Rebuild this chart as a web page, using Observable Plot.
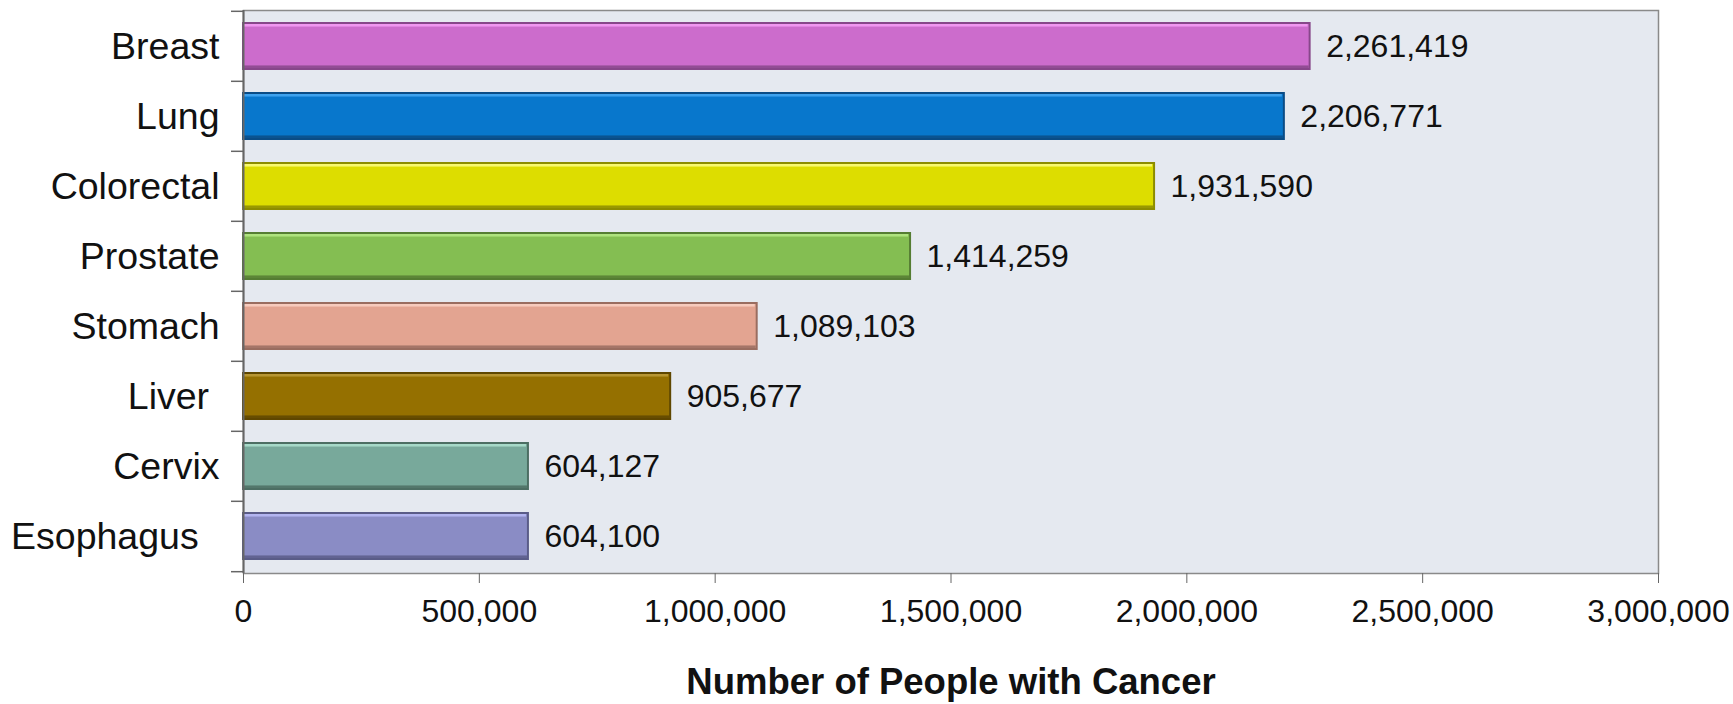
<!DOCTYPE html>
<html>
<head>
<meta charset="utf-8">
<script src="https://cdn.jsdelivr.net/npm/d3@7"></script>
<script src="https://cdn.jsdelivr.net/npm/@observablehq/plot@0.6"></script>
<style>
  html, body { margin: 0; padding: 0; background: #fff; }
  svg { font-family: "Liberation Sans", Arial, sans-serif; }
  svg [aria-label="y-axis tick label"] text { font-size: 37.5px; }
  svg [aria-label="x-axis label"] text { font-size: 36.5px; font-weight: bold; }
</style>
</head>
<body>
<div id="chart"></div>
<script>
const categories = ["Breast", "Lung", "Colorectal", "Prostate", "Stomach", "Liver", "Cervix", "Esophagus"];
const values = [2261419, 2206771, 1931590, 1414259, 1089103, 905677, 604127, 604100];
const xTicks = [0, 500000, 1000000, 1500000, 2000000, 2500000, 3000000];
const xTitle = "Number of People with Cancer";

const fillColors   = ["#cc6ccc", "#0877cc", "#dddd00", "#84be52", "#e3a491", "#957000", "#78a99b", "#8a8cc5"];
const lightColors  = ["#f097f0", "#3ea2ee", "#f8f870", "#aee27e", "#f7cbbd", "#b89632", "#a6d9c8", "#b3b5f0"];
const darkColors   = ["#87478a", "#0a4c86", "#8c8c00", "#557d33", "#9a6d60", "#5f4700", "#4c6e63", "#5a5c88"];

const data = categories.map((c, i) => ({
  cat: c, value: values[i], fill: fillColors[i], light: lightColors[i], dark: darkColors[i]
}));

const W = 1733, H = 704;
const mTop = 10, mBottom = 131, mLeft = 243, mRight = 75;
const padInner = 0.34;
const step = (H - mTop - mBottom) / categories.length;
const bw = step * (1 - padInner);
const tickLenData = 12 / ((W - mLeft - mRight) / 3000000);

const labelSpace = {"Liver": "\u00a0", "Esophagus": "\u00a0\u00a0"};

const chart = Plot.plot({
  width: W,
  height: H,
  marginTop: mTop,
  marginBottom: mBottom,
  marginLeft: mLeft,
  marginRight: mRight,
  style: { fontFamily: "Liberation Sans, Arial, sans-serif", color: "#111", background: "#fff" },
  x: { domain: [0, 3000000] },
  y: { domain: categories, paddingInner: padInner, paddingOuter: padInner / 2 },
  marks: [
    Plot.frame({ fill: "#e5e9f0", stroke: "#8a8a8a", strokeWidth: 1.5 }),
    // bars
    Plot.barX(data, { y: "cat", x: "value", fill: "fill", stroke: "dark", strokeWidth: 2 }),
    // top highlight
    Plot.barX(data, { y: "cat", x1: 0, x2: "value", fill: "light", insetBottom: bw - 4, insetRight: 2, insetLeft: 1, insetTop: 1 }),
    // bottom shade
    Plot.barX(data, { y: "cat", x1: 0, x2: "value", fill: "dark", insetTop: bw - 4, insetRight: 1, fillOpacity: 0.85 }),
    // value labels
    Plot.text(data, {
      y: "cat", x: "value", text: d => d3.format(",")(d.value),
      textAnchor: "start", dx: 16, fontSize: 32, fill: "#111"
    }),
    // y-axis band boundary ticks
    Plot.ruleY(categories, { y: d => d, x1: -tickLenData, x2: 0, dy: -step / 2, stroke: "#666", strokeWidth: 1.5 }),
    Plot.ruleY([categories[categories.length - 1]], { y: d => d, x1: -tickLenData, x2: 0, dy: step / 2, stroke: "#666", strokeWidth: 1.5 }),
    // axes
    Plot.axisY({
      tickSize: 0, tickPadding: 24, label: null, fontSize: 37.5,
      tickFormat: d => d + (labelSpace[d] || "")
    }),
    Plot.axisX({
      ticks: xTicks, tickSize: 10, tickPadding: 16, fontSize: 32,
      tickFormat: d3.format(","), stroke: "#666",
      label: xTitle, labelAnchor: "center", labelArrow: "none", labelOffset: 120
    }),
    Plot.ruleX([0], { stroke: "#666", strokeWidth: 2 }),
    Plot.ruleY([0], { stroke: "#666", strokeWidth: 2, frameAnchor: "bottom" })
  ]
});
document.getElementById("chart").appendChild(chart);
</script>
</body>
</html>
